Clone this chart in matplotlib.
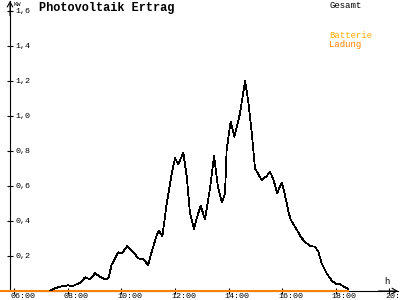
import matplotlib
matplotlib.use("Agg")
import matplotlib.pyplot as plt
from matplotlib.transforms import ScaledTranslation

plt.rcParams['font.family'] = ['Liberation Mono', 'DejaVu Sans Mono']
plt.rcParams['lines.antialiased'] = False

# Gesamt (kW) over the day, time in hours
times = [7.33, 7.51, 7.70, 7.89, 8.01, 8.14, 8.26, 8.45, 8.64, 8.82, 9.01, 9.20,
         9.38, 9.51, 9.63, 9.88, 10.01, 10.22, 10.42, 10.63, 10.81, 11.00, 11.13,
         11.32, 11.40, 11.53, 11.69, 11.88, 12.00, 12.12, 12.31, 12.44, 12.56,
         12.71, 12.83, 12.96, 13.12, 13.31, 13.46, 13.60, 13.75, 13.87, 13.93,
         14.08, 14.22, 14.43, 14.62, 14.74, 14.87, 14.99, 15.24, 15.43, 15.55,
         15.67, 15.82, 15.99, 16.11, 16.24, 16.33, 16.52, 16.74, 16.92, 17.07,
         17.23, 17.36, 17.48, 17.67, 17.86, 18.02, 18.17, 18.32, 18.48]
gesamt = [0.003, 0.015, 0.025, 0.029, 0.033, 0.025, 0.034, 0.047, 0.078, 0.067,
          0.101, 0.082, 0.067, 0.073, 0.149, 0.221, 0.215, 0.257, 0.225, 0.187,
          0.181, 0.149, 0.225, 0.320, 0.343, 0.314, 0.500, 0.673, 0.758, 0.724,
          0.790, 0.653, 0.444, 0.353, 0.425, 0.486, 0.410, 0.587, 0.771, 0.600,
          0.505, 0.558, 0.806, 0.967, 0.882, 1.015, 1.202, 1.082, 0.901, 0.701,
          0.634, 0.657, 0.682, 0.640, 0.560, 0.619, 0.549, 0.453, 0.406, 0.358,
          0.301, 0.273, 0.257, 0.253, 0.225, 0.158, 0.101, 0.059, 0.040, 0.038,
          0.025, 0.010]

# Batterie Ladung (kW)
bat_times = [5.46, 18.48]
bat_ladung = [0.0, 0.0]

yticks = [0.2, 0.4, 0.6, 0.8, 1.0, 1.2, 1.4, 1.6]
ylabels = ['0,2', '0,4', '0,6', '0,8', '1,0', '1,2', '1,4', '1,6']
xticks = [6, 8, 10, 12, 14, 16, 18, 20]
xlabels = ['06:00', '08:00', '10:00', '12:00', '14:00', '16:00', '18:00', '20:00']

fig = plt.figure(figsize=(4, 3), dpi=100)
ax = fig.add_axes([10/400, 9/300, 388/400, 290/300])

ax.plot(bat_times, bat_ladung, color='#ff8000', lw=1.4, zorder=3, clip_on=False)
ax.plot(times, gesamt, color='black', lw=0.55, zorder=4)

ax.set_xlim(5.832, 20.336)
ax.set_ylim(0, 1.657)

for s in ['top', 'right']:
    ax.spines[s].set_visible(False)
ax.spines['left'].set_linewidth(0.8)
ax.spines['bottom'].set_linewidth(0.8)

ax.set_yticks(yticks)
ax.set_yticklabels(ylabels, fontsize=6)
ax.tick_params(axis='y', direction='inout', length=4.3, width=0.8, pad=-5.75)
for lab in ax.get_yticklabels():
    lab.set_horizontalalignment('left')

ax.set_xticks(xticks)
ax.set_xticklabels(xlabels, fontsize=6)
ax.tick_params(axis='x', direction='inout', length=5, width=0.8, pad=-1.0)
off = ScaledTranslation(-4/100, 0, fig.dpi_scale_trans)
for lab in ax.get_xticklabels():
    lab.set_horizontalalignment('left')
    lab.set_transform(lab.get_transform() + off)

# axis arrows
arr = dict(arrowstyle='->,head_length=0.35,head_width=0.2', lw=0.8, color='black',
           shrinkA=0, shrinkB=0)
ax.annotate('', xy=(0, 1.0), xytext=(0, 0.95), xycoords='axes fraction',
            arrowprops=arr, annotation_clip=False)
ax.annotate('', xy=(1.0, 0), xytext=(0.95, 0), xycoords='axes fraction',
            arrowprops=arr, annotation_clip=False)

fig.text(13/400, 1 - 4/300, 'KW', fontsize=4.5, va='center', ha='left')
fig.text(39/400, 1 - 7.5/300, 'Photovoltaik Ertrag', fontsize=8.6, fontweight='bold',
         va='center', ha='left')
fig.text(329/400, 1 - 5/300, 'Gesamt', fontsize=6.5, va='center', ha='left', color='black')
fig.text(329/400, 1 - 36/300, 'Batterie', fontsize=6.5, va='center', ha='left', color='#ffae00')
fig.text(329/400, 1 - 44/300, 'Ladung', fontsize=6.5, va='center', ha='left', color='#ff8000')
fig.text(387/400, 1 - 282/300, 'h', fontsize=6.5, va='center', ha='center')

fig.savefig('out.png', dpi=100)
